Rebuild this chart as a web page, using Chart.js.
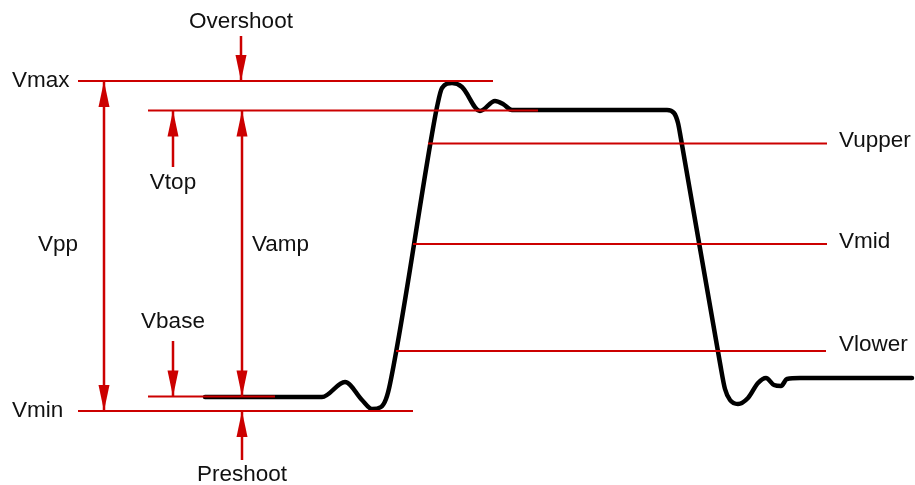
<!DOCTYPE html>
<html>
<head>
<meta charset="utf-8">
<script src="https://cdn.jsdelivr.net/npm/chart.js@4.4.1/dist/chart.umd.min.js"></script>
<style>
  html, body { margin: 0; padding: 0; background: #ffffff; }
  #wrap { width: 915px; height: 485px; position: relative; }
</style>
</head>
<body>
<div id="wrap"><canvas id="c"></canvas></div>
<script>
// ---- Data (time in arbitrary units, voltage in arbitrary units) ----
const waveTime = [205, 322, 345, 362, 372, 381, 386, 390, 432, 437, 442, 452, 462, 480, 495, 503, 512, 540, 667, 674, 678, 681, 720, 725, 730, 738, 748, 758, 766, 774, 781, 787, 800, 912];
const waveVolt = [88, 88, 103, 85, 76, 78, 86, 101, 351, 378, 397, 402, 398, 374, 384, 381, 375, 375, 375, 372, 362, 346, 122, 96, 85, 81, 87, 102, 107, 100, 99, 106, 107, 107];

const levelNames = ["Vmax", "Vtop", "Vupper", "Vmid", "Vlower", "Vbase", "Vmin"];
const levelValues = [404, 374.5, 341.5, 241, 134, 88.5, 74];
const levelFrom = [78, 148, 428, 413, 396, 148, 78];
const levelTo = [493, 538, 827, 827, 826, 275, 413];

// arrows: time, start voltage, end voltage, heads ("end" or "both")
const arrowNames = ["Overshoot", "Vpp", "Vtop", "Vamp", "Vbase", "Preshoot"];
const arrowTime = [241, 104, 173, 242, 173, 242];
const arrowFrom = [449, 74, 318, 88.5, 144, 25];
const arrowTo = [404, 404, 374.5, 374.5, 88.5, 74];
const arrowHeads = ["end", "both", "end", "both", "end", "end"];

// text labels
const labelTexts = ["Overshoot", "Vmax", "Vtop", "Vpp", "Vamp", "Vbase", "Vmin", "Preshoot", "Vupper", "Vmid", "Vlower"];
const labelTime = [241, 12, 173, 38, 252, 173, 12, 242, 839, 839, 839];
const labelVolt = [463, 404, 302, 240, 240, 163, 74, 10, 344, 243, 140];
const labelAlign = ["center", "left", "center", "left", "left", "center", "left", "center", "left", "left", "left"];

// ---- Build datasets ----
const RED = '#cc0000';
const datasets = [];
datasets.push({
  label: 'waveform',
  data: waveTime.map((t, i) => ({ x: t, y: waveVolt[i] })),
  borderColor: '#000000',
  borderWidth: 4.5,
  pointRadius: 0,
  cubicInterpolationMode: 'monotone',
  borderCapStyle: 'round',
  borderJoinStyle: 'round',
  order: 10,
  clip: false
});
levelNames.forEach((n, i) => {
  datasets.push({
    label: n,
    data: [{ x: levelFrom[i], y: levelValues[i] }, { x: levelTo[i], y: levelValues[i] }],
    borderColor: RED, borderWidth: 2, pointRadius: 0, order: 1, clip: false
  });
});
arrowNames.forEach((n, i) => {
  datasets.push({
    label: n + ' arrow',
    data: [{ x: arrowTime[i], y: arrowFrom[i] }, { x: arrowTime[i], y: arrowTo[i] }],
    borderColor: RED, borderWidth: 2.5, pointRadius: 0, order: 1, clip: false
  });
});

const annotPlugin = {
  id: 'annot',
  afterDatasetsDraw(chart) {
    const ctx = chart.ctx;
    const xs = chart.scales.x, ys = chart.scales.y;
    ctx.save();
    ctx.fillStyle = RED;
    const head = (x, yTip, dir) => {
      const L = 26, W = 5.5;
      ctx.beginPath();
      ctx.moveTo(x, yTip);
      ctx.lineTo(x - W, yTip - dir * L);
      ctx.lineTo(x + W, yTip - dir * L);
      ctx.closePath();
      ctx.fill();
    };
    arrowNames.forEach((n, i) => {
      const x = xs.getPixelForValue(arrowTime[i]);
      const y0 = ys.getPixelForValue(arrowFrom[i]);
      const y1 = ys.getPixelForValue(arrowTo[i]);
      const dir = y1 > y0 ? 1 : -1;
      head(x, y1, dir);
      if (arrowHeads[i] === 'both') head(x, y0, -dir);
    });
    ctx.fillStyle = '#111111';
    ctx.font = '22.5px "Liberation Sans", Arial, sans-serif';
    ctx.textBaseline = 'middle';
    labelTexts.forEach((t, i) => {
      ctx.textAlign = labelAlign[i];
      ctx.fillText(t, xs.getPixelForValue(labelTime[i]), ys.getPixelForValue(labelVolt[i]));
    });
    ctx.restore();
  }
};

new Chart(document.getElementById('c'), {
  type: 'line',
  data: { datasets },
  options: {
    responsive: true,
    maintainAspectRatio: false,
    animation: false,
    events: [],
    layout: { padding: 0 },
    plugins: { legend: { display: false }, tooltip: { enabled: false } },
    scales: {
      x: { type: 'linear', min: 0, max: 915, display: false },
      y: { type: 'linear', min: 0, max: 485, display: false }
    }
  },
  plugins: [annotPlugin]
});
</script>
</body>
</html>
